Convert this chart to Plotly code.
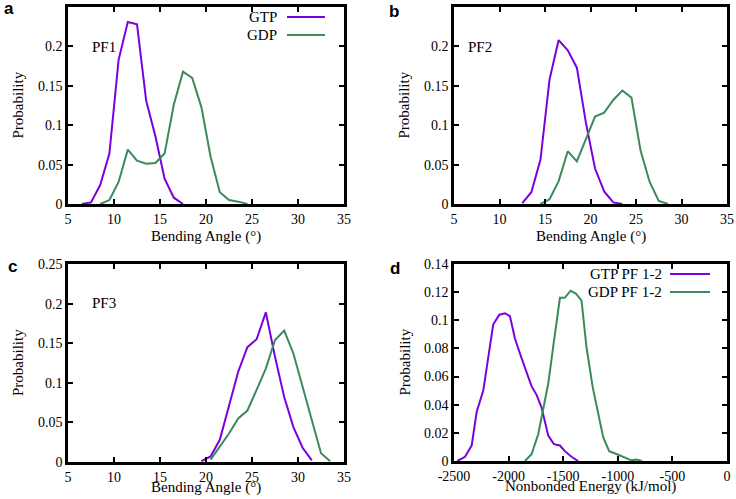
import plotly.graph_objects as go

# panel a - PF1 bending angle
a_gtp_x = [6.5, 7.5, 8.5, 9.5, 10.5, 11.5, 12.5, 13.5, 14.5, 15.5, 16.5, 17.5]
a_gtp_y = [0, 0.002, 0.024, 0.064, 0.183, 0.231, 0.228, 0.131, 0.086, 0.032, 0.008, 0]
a_gdp_x = [8.5, 9.5, 10.5, 11.5, 12.5, 13.5, 14.5, 15.5, 16.5, 17.5, 18.5, 19.5,
           20.5, 21.5, 22.5, 23.5, 24.5]
a_gdp_y = [0, 0.005, 0.028, 0.069, 0.055, 0.051, 0.052, 0.064, 0.126, 0.168, 0.160,
           0.123, 0.060, 0.015, 0.005, 0.003, 0]

# panel b - PF2
b_gtp_x = [12.5, 13.5, 14.5, 15.5, 16.5, 17.5, 18.5, 19.5, 20.5, 21.5, 22.5, 23.5]
b_gtp_y = [0.001, 0.015, 0.056, 0.158, 0.208, 0.195, 0.173, 0.103, 0.045, 0.016, 0.002, 0]
b_gdp_x = [14.5, 15.5, 16.5, 17.5, 18.5, 19.5, 20.5, 21.5, 22.5, 23.5, 24.5, 25.5,
           26.5, 27.5, 28.5]
b_gdp_y = [0, 0.006, 0.029, 0.067, 0.054, 0.082, 0.111, 0.116, 0.132, 0.144, 0.135,
           0.068, 0.028, 0.004, 0]

# panel c - PF3
c_gtp_x = [19.5, 20.5, 21.5, 22.5, 23.5, 24.5, 25.5, 26.5, 27.5, 28.5, 29.5, 30.5, 31.5]
c_gtp_y = [0.001, 0.007, 0.028, 0.07, 0.114, 0.145, 0.155, 0.189, 0.133, 0.082, 0.044,
           0.018, 0.002]
c_gdp_x = [20.5, 21.5, 22.5, 23.5, 24.5, 25.5, 26.5, 27.5, 28.5, 29.5, 30.5, 31.5,
           32.5, 33.5]
c_gdp_y = [0.003, 0.019, 0.036, 0.055, 0.065, 0.091, 0.118, 0.154, 0.166, 0.137, 0.096,
           0.053, 0.011, 0.001]

# panel d - nonbonded energy PF 1-2
d_gtp_x = [-2470, -2399, -2338, -2292, -2232, -2141, -2085, -2033, -1988, -1942, -1881,
           -1789, -1744, -1698, -1637, -1585, -1530, -1485, -1424, -1363]
d_gtp_y = [0, 0.003, 0.011, 0.035, 0.050, 0.097, 0.104, 0.105, 0.103, 0.087, 0.073,
           0.053, 0.047, 0.038, 0.018, 0.012, 0.011, 0.007, 0.003, 0]
d_gdp_x = [-1850, -1789, -1729, -1683, -1637, -1583, -1530, -1485, -1433, -1384, -1332,
           -1287, -1231, -1134, -1079, -1012, -936, -875, -829, -780]
d_gdp_y = [0, 0.005, 0.019, 0.036, 0.055, 0.086, 0.116, 0.116, 0.121, 0.119, 0.114,
           0.081, 0.053, 0.017, 0.007, 0.005, 0.0024, 0.0005, 0.001, 0]

angle_ticks = [5, 10, 15, 20, 25, 30, 35]
prob_ticks = [0, 0.05, 0.1, 0.15, 0.2, 0.25]
energy_ticks = [-2500, -2000, -1500, -1000, -500, 0]
energy_labels = ["-2500", "-2000", "-1500", "-1000", "-500", "0"]
prob_ticks_d = [0, 0.02, 0.04, 0.06, 0.08, 0.1, 0.12, 0.14]

PURPLE = "#7b00e0"
GREEN = "#3b8a5c"
FONT = "Liberation Serif"
W, H = 736, 499

fig = go.Figure()

panels = [
    ("", a_gtp_x, a_gtp_y, a_gdp_x, a_gdp_y),
    ("2", b_gtp_x, b_gtp_y, b_gdp_x, b_gdp_y),
    ("3", c_gtp_x, c_gtp_y, c_gdp_x, c_gdp_y),
    ("4", d_gtp_x, d_gtp_y, d_gdp_x, d_gdp_y),
]
for s, gx, gy, dx, dy in panels:
    fig.add_trace(go.Scatter(x=gx, y=gy, mode="lines", line=dict(color=PURPLE, width=2),
                             xaxis="x" + s, yaxis="y" + s, showlegend=False))
    fig.add_trace(go.Scatter(x=dx, y=dy, mode="lines", line=dict(color=GREEN, width=2),
                             xaxis="x" + s, yaxis="y" + s, showlegend=False))

# pixel boxes of the four plot areas (left, right, top, bottom)
boxes = [(68, 344, 7, 204), (454, 727, 7, 204), (68, 344, 264, 462), (454, 727, 264, 461)]

axes = {}
for i, (l, r, t, b) in enumerate(boxes):
    s = "" if i == 0 else str(i + 1)
    xa = dict(domain=[l / W, r / W], anchor="y" + s)
    ya = dict(domain=[1 - b / H, 1 - t / H], anchor="x" + s)
    if i < 3:
        xa.update(range=[5, 35], tickvals=angle_ticks)
        ylim, yt = [0, 0.25], prob_ticks
    else:
        xa.update(range=[-2500, 0], tickvals=energy_ticks, ticktext=energy_labels)
        ylim, yt = [0, 0.14], prob_ticks_d
    # y limits via autorange clipped to the wanted interval
    ya.update(autorange=True, tickvals=yt,
              autorangeoptions=dict(include=ylim, clipmin=ylim[0], clipmax=ylim[1]))
    axes["xaxis" + s] = xa
    axes["yaxis" + s] = ya
fig.update_layout(**axes)

# gnuplot-like box: thick border, inside ticks on all four sides
style = dict(showline=True, linecolor="black", linewidth=2.5, mirror="ticks",
             ticks="inside", ticklen=5, tickwidth=1.5, tickcolor="black",
             showgrid=False, zeroline=False,
             tickfont=dict(family=FONT, size=14, color="black"))
fig.update_xaxes(**style)
fig.update_yaxes(**style, ticksuffix="\u00a0\u00a0\u00a0")

ann = []
shapes = []
txt = dict(family=FONT, size=15, color="black")
center = dict(showarrow=False, xref="paper", yref="paper", xanchor="center", yanchor="middle")
for i, (l, r, t, b) in enumerate(boxes):
    xt = "Nonbonded Energy (kJ/mol)" if i == 3 else "Bending Angle (°)"
    off = 32 if i < 2 else 25
    ann.append(dict(x=(l + r) / 2 / W, y=1 - (b + off) / H, text=xt, font=txt, **center))
    ann.append(dict(x=(l - 50) / W, y=1 - (t + b) / 2 / H, text="Probability", textangle=-90,
                    font=txt, **center))

for lab, px, py in [("a", 9, 8), ("b", 394, 11), ("c", 12, 266), ("d", 395, 268)]:
    ann.append(dict(x=px / W, y=1 - py / H, text="<b>" + lab + "</b>",
                    font=dict(family="Liberation Sans", size=17, color="black"), **center))

for lab, px, py in [("PF1", 104, 47), ("PF2", 480, 47), ("PF3", 104, 303)]:
    ann.append(dict(x=px / W, y=1 - py / H, text=lab, font=txt, **center))

# key entries (gnuplot style: text then line sample)
keys = [("GTP", PURPLE, 279, 287, 325, 17), ("GDP", GREEN, 279, 287, 325, 35),
        ("GTP PF 1-2", PURPLE, 664, 670, 710, 274), ("GDP PF 1-2", GREEN, 664, 670, 710, 292)]
for lab, col, tx, x0, x1, yy in keys:
    ann.append(dict(x=tx / W, y=1 - yy / H, text=lab, showarrow=False, xanchor="right",
                    yanchor="middle", xref="paper", yref="paper", font=txt))
    shapes.append(dict(type="line", xref="paper", yref="paper", x0=x0 / W, x1=x1 / W,
                       y0=1 - yy / H, y1=1 - yy / H, line=dict(color=col, width=2)))

fig.update_layout(width=W, height=H, margin=dict(l=0, r=0, t=0, b=0, autoexpand=False),
                  font=dict(family=FONT, size=14, color="black"),
                  paper_bgcolor="white", plot_bgcolor="white",
                  annotations=ann, shapes=shapes, showlegend=False)

# drop the browser's default 8px body margin so the figure sits at the window corner
fig.write_html("out.html", config={"displayModeBar": False},
               post_script="document.body.style.margin = '0';")
